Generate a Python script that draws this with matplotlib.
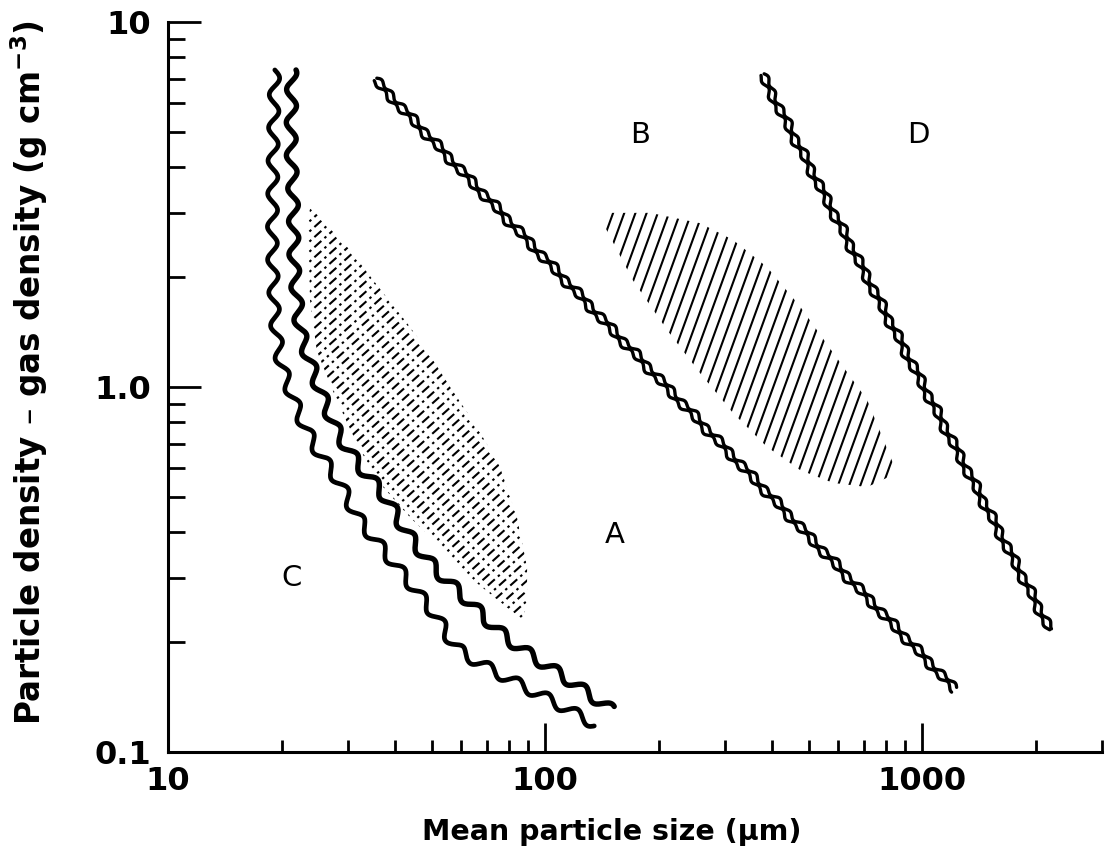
import numpy as np
import matplotlib
matplotlib.use("Agg")
from matplotlib import pyplot as plt
import matplotlib.ticker as ticker
from matplotlib.patches import Polygon
from matplotlib.collections import LineCollection

# boundary C/A (two parallel wavy lines)
c_left_size = [19.2, 19.0, 18.9, 19.2, 19.8, 20.7, 22.4, 24.8, 28.6, 31.7, 37.2, 43.9, 51.7, 58.4, 76.0, 103, 136]
c_left_dens = [7.39, 4.46, 2.37, 1.52, 1.18, 1.03, 0.827, 0.672, 0.546, 0.440, 0.358, 0.290, 0.234, 0.190, 0.163, 0.139, 0.119]
c_right_size = [21.3, 21.2, 21.5, 21.6, 22.4, 24.8, 28.1, 32.3, 37.2, 43.0, 50.5, 62.1, 76.0, 87.4, 110, 151]
c_right_dens = [7.39, 4.46, 3.25, 2.13, 1.41, 1.03, 0.748, 0.604, 0.512, 0.398, 0.321, 0.261, 0.212, 0.190, 0.163, 0.130]

# boundary A/B and B/D
ab_size = [35.4, 208, 1224]
ab_dens = [6.94, 1.01, 0.148]
bd_size = [376, 2185]
bd_dens = [7.16, 0.216]

# transition zones (hatched)
ca_zone_size = [23.8, 23.5, 23.8, 24.8, 28.0, 32.3, 37.2, 43.8, 53.7, 66.0, 80.8, 87.5,
                89.6, 89.6, 84.2, 75.9, 66.0, 56.0, 48.6, 43.0, 37.2, 30.4]
ca_zone_dens = [3.11, 2.74, 1.73, 1.26, 0.921, 0.672, 0.532, 0.440, 0.358, 0.290, 0.245, 0.230,
                0.261, 0.321, 0.440, 0.604, 0.777, 1.0, 1.26, 1.50, 1.81, 2.37]
bd_zone_size = [142.5, 148.7, 190, 258, 315, 388, 475, 581, 715, 858,
                715, 581, 475, 388, 315, 258, 211, 171]
bd_zone_dens = [2.81, 3.00, 3.00, 2.81, 2.53, 2.13, 1.66, 1.24, 0.921, 0.581,
                0.532, 0.546, 0.592, 0.685, 0.849, 1.09, 1.43, 1.96]

group_names = ["A", "B", "C", "D"]
group_size = [153, 179, 21.3, 975]
group_dens = [0.393, 4.90, 0.300, 4.90]


def wavy(ax, xs, ys, amp, period, offset=0.0, phase=0.0, amp2=0.0, period2=1.0, **kw):
    pts = ax.transData.transform(np.column_stack([xs, ys]))
    seg = np.hypot(*np.diff(pts, axis=0).T)
    s = np.concatenate([[0], np.cumsum(seg)])
    t = np.arange(0, s[-1], 1.0)
    px = np.interp(t, s, pts[:, 0])
    py = np.interp(t, s, pts[:, 1])
    k = 15
    if len(t) > 3 * k:
        w = np.ones(2 * k + 1) / (2 * k + 1)
        px = np.convolve(np.pad(px, k, mode="reflect", reflect_type="odd"), w, mode="valid")
        py = np.convolve(np.pad(py, k, mode="reflect", reflect_type="odd"), w, mode="valid")
    dx, dy = np.gradient(px), np.gradient(py)
    n = np.hypot(dx, dy)
    nx, ny = -dy / n, dx / n
    off = offset + amp * np.sin(2 * np.pi * t / period + phase) + amp2 * np.sin(2 * np.pi * t / period2)
    d = ax.transData.inverted().transform(np.column_stack([px + nx * off, py + ny * off]))
    ax.plot(d[:, 0], d[:, 1], color="black", solid_capstyle="round", solid_joinstyle="round", **kw)


def hatch(ax, xs, ys, angle, spacing, lw, ls="solid"):
    poly = Polygon(np.column_stack([xs, ys]), closed=True, fill=False, edgecolor="none")
    ax.add_patch(poly)
    pts = ax.transData.transform(np.column_stack([xs, ys]))
    lo, hi = pts.min(0), pts.max(0)
    c = (lo + hi) / 2
    r = np.hypot(*(hi - lo))
    a = np.radians(angle)
    u = np.array([np.cos(a), np.sin(a)])
    v = np.array([-u[1], u[0]])
    segs = []
    for o in np.arange(-r, r, spacing):
        p = c + v * o
        seg = ax.transData.inverted().transform(np.array([p - u * r, p + u * r]))
        segs.append(seg)
    lc = LineCollection(segs, colors="black", linewidths=lw, linestyles=ls)
    ax.add_collection(lc, autolim=False)
    lc.set_clip_path(poly)


fig = plt.figure(figsize=(11.07, 8.55), dpi=100)
ax = fig.add_axes([168 / 1107, 1 - 752 / 855, 934 / 1107, 730 / 855])
ax.set_xscale("log")
ax.set_yscale("log")
ax.set_xlim(10, 3000)
ax.set_ylim(0.1, 10)

for side in ["top", "right"]:
    ax.spines[side].set_visible(False)
for side in ["left", "bottom"]:
    ax.spines[side].set_linewidth(2.2)

ax.set_xticks([10, 100, 1000], ["10", "100", "1000"], fontsize=23, fontweight="bold")
ax.set_yticks([0.1, 1, 10], ["0.1", "1.0", "10"], fontsize=23, fontweight="bold")
ax.xaxis.set_minor_locator(ticker.FixedLocator([20, 30, 40, 50, 60, 70, 80, 90,
                                                200, 300, 400, 500, 600, 700, 800, 900, 2000, 3000]))
ax.yaxis.set_minor_locator(ticker.FixedLocator([0.2, 0.3, 0.4, 0.5, 0.6, 0.7, 0.8, 0.9,
                                                2, 3, 4, 5, 6, 7, 8, 9]))
ax.xaxis.set_minor_formatter(ticker.NullFormatter())
ax.yaxis.set_minor_formatter(ticker.NullFormatter())
ax.tick_params(axis="x", which="major", direction="in", length=21, width=2, pad=10)
ax.tick_params(axis="x", which="minor", direction="in", length=9, width=2)
ax.tick_params(axis="y", which="major", direction="in", length=24, width=2, pad=12)
ax.tick_params(axis="y", which="minor", direction="in", length=12, width=2)

# hatched transition zones
hatch(ax, ca_zone_size, ca_zone_dens, 42, 7.5, 1.5, ls=(0, (4.5, 2.0, 1.2, 2.0)))
hatch(ax, bd_zone_size, bd_zone_dens, 70, 10.5, 1.5)

# C/A boundary
wavy(ax, c_left_size, c_left_dens, 5.0, 33, lw=3.4)
wavy(ax, c_right_size, c_right_dens, 5.0, 33, phase=1.0, lw=3.9)

# A/B and B/D boundaries, drawn as twisted double lines
for xs, ys in [(ab_size, ab_dens), (bd_size, bd_dens)]:
    wavy(ax, xs, ys, 1.8, 17, offset=2.5, amp2=1.0, period2=41, lw=2.4)
    wavy(ax, xs, ys, 1.8, 17, offset=-2.5, phase=2.2, amp2=1.0, period2=41, lw=2.4)

for name, x, y in zip(group_names, group_size, group_dens):
    ax.text(x, y, name, fontsize=21, ha="center", va="center")

fig.text(612 / 1107, 1 - 832 / 855, "Mean particle size (\u03bcm)",
         fontsize=20.5, fontweight="bold", ha="center", va="center")
fig.text(29 / 1107, 1 - 372 / 855, "Particle density \u2013 gas density (g cm$^{\\mathbf{-3}}$)",
         fontsize=23.5, fontweight="bold", rotation=90, ha="center", va="center")

fig.savefig("out.png", dpi=100)
